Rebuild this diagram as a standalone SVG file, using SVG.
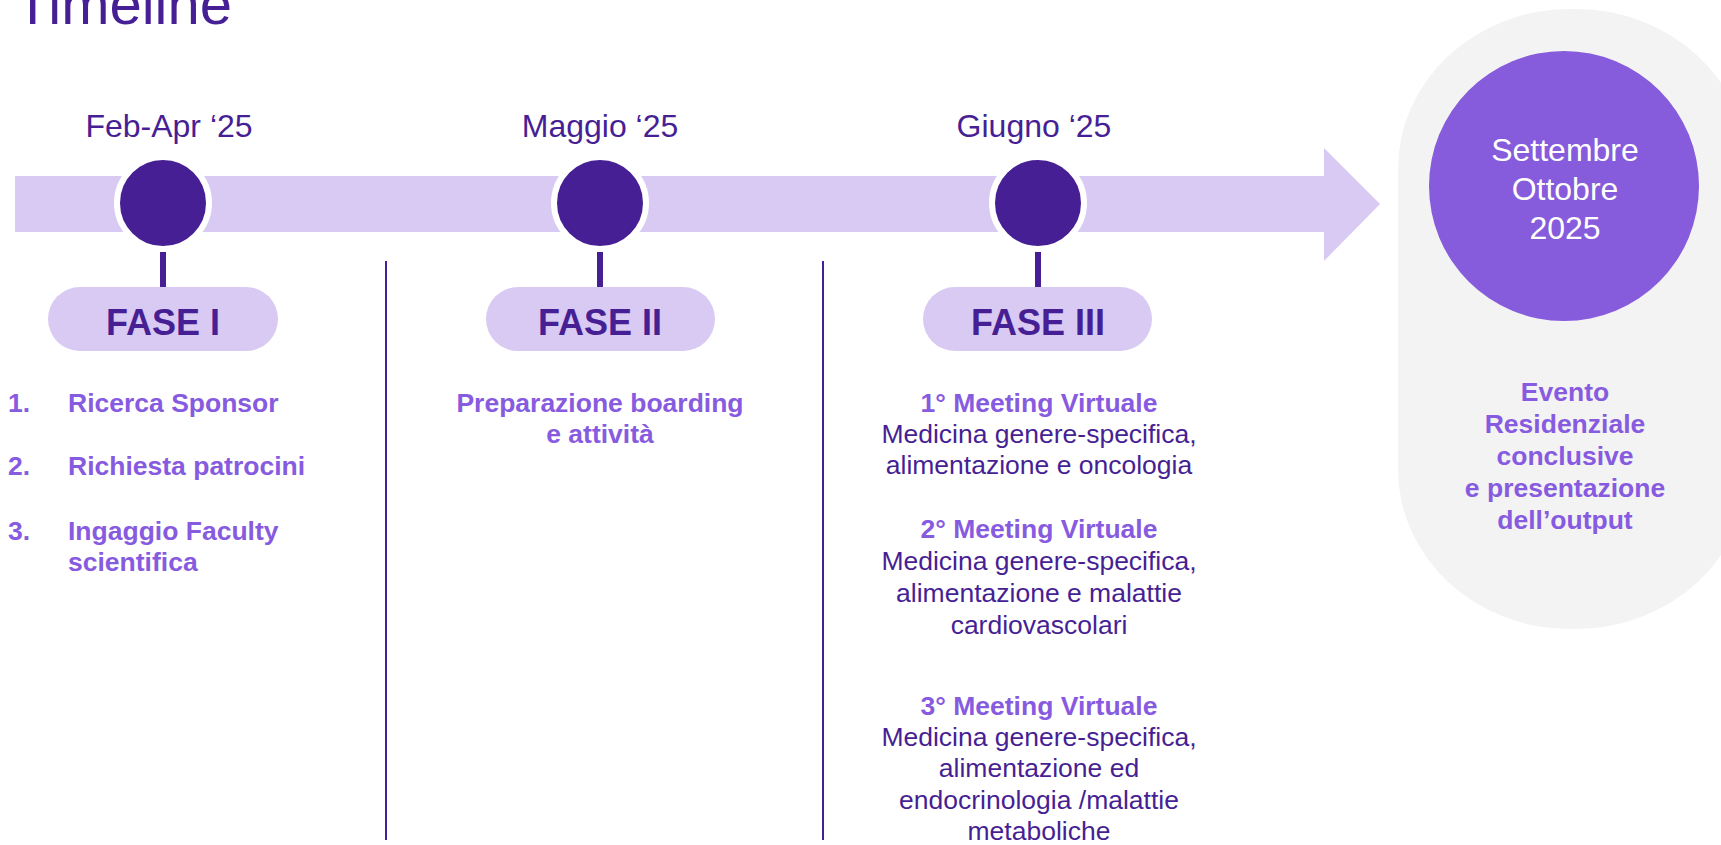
<svg xmlns="http://www.w3.org/2000/svg" width="1721" height="845" viewBox="0 0 1721 845">
<style>
text{font-family:"Liberation Sans",Arial,sans-serif}
.dark{fill:#471F94}
.mid{fill:#875BE0}
.date{font-size:32px;fill:#471F94;text-anchor:middle}
.fase{font-size:36px;font-weight:bold;fill:#471F94;text-anchor:middle}
.b{font-size:26.5px;font-weight:bold;fill:#875BE0}
.r{font-size:26.5px;fill:#471F94}
.c{text-anchor:middle}
.pill{fill:#D9CAF3}
.dot{fill:#471F94;stroke:#fff;stroke-width:6}
.stem{fill:#471F94}
.div{stroke:#471F94;stroke-width:2}
</style>
<rect width="1721" height="845" fill="#fff"/>
<text x="15" y="24" style="font-size:58px" class="dark">Timeline</text>
<g id="panel">
<rect x="1398" y="9" width="350" height="620" rx="172" ry="160" fill="#F3F3F3"/>
</g>
<g id="connectors">
<path d="M15 176 H1324 V148 L1380 204 L1324 261 V232 H15 Z" fill="#D9CAF3"/>
<line class="div" x1="386" y1="261" x2="386" y2="840"/>
<line class="div" x1="823" y1="261" x2="823" y2="840"/>
<rect class="stem" x="160" y="248" width="6" height="40"/>
<rect class="stem" x="597" y="248" width="6" height="40"/>
<rect class="stem" x="1035" y="248" width="6" height="40"/>
</g>
<g id="phase1">
<text class="date" x="169" y="137">Feb-Apr ‘25</text>
<circle class="dot" cx="163" cy="203" r="46"/>
<rect class="pill" x="48" y="287" width="230" height="64" rx="32"/>
<text class="fase" x="163" y="335">FASE I</text>
<text class="b" x="8" y="412">1.</text>
<text class="b" x="68" y="412">Ricerca Sponsor</text>
<text class="b" x="8" y="475">2.</text>
<text class="b" x="68" y="475">Richiesta patrocini</text>
<text class="b" x="8" y="540">3.</text>
<text class="b" x="68" y="540">Ingaggio Faculty</text>
<text class="b" x="68" y="571">scientifica</text>
</g>
<g id="phase2">
<text class="date" x="600" y="137">Maggio ‘25</text>
<circle class="dot" cx="600" cy="203" r="46"/>
<rect class="pill" x="486" y="287" width="229" height="64" rx="32"/>
<text class="fase" x="600" y="335">FASE II</text>
<text class="b c" x="600" y="412">Preparazione boarding</text>
<text class="b c" x="600" y="443">e attività</text>
</g>
<g id="phase3">
<text class="date" x="1034" y="137">Giugno ‘25</text>
<circle class="dot" cx="1038" cy="203" r="46"/>
<rect class="pill" x="923" y="287" width="229" height="64" rx="32"/>
<text class="fase" x="1038" y="335">FASE III</text>
<text class="b c" x="1039" y="412">1° Meeting Virtuale</text>
<text class="r c" x="1039" y="443">Medicina genere-specifica,</text>
<text class="r c" x="1039" y="474">alimentazione e oncologia</text>
<text class="b c" x="1039" y="538">2° Meeting Virtuale</text>
<text class="r c" x="1039" y="570">Medicina genere-specifica,</text>
<text class="r c" x="1039" y="602">alimentazione e malattie</text>
<text class="r c" x="1039" y="634">cardiovascolari</text>
<text class="b c" x="1039" y="715">3° Meeting Virtuale</text>
<text class="r c" x="1039" y="746">Medicina genere-specifica,</text>
<text class="r c" x="1039" y="777">alimentazione ed</text>
<text class="r c" x="1039" y="809">endocrinologia /malattie</text>
<text class="r c" x="1039" y="840">metaboliche</text>
</g>
<g id="final">
<circle cx="1564" cy="186" r="135" fill="#865BDC"/>
<text class="c" x="1565" y="161" style="font-size:32px;fill:#fff">Settembre</text>
<text class="c" x="1565" y="200" style="font-size:32px;fill:#fff">Ottobre</text>
<text class="c" x="1565" y="239" style="font-size:32px;fill:#fff">2025</text>
<text class="b c" x="1565" y="401">Evento</text>
<text class="b c" x="1565" y="433">Residenziale</text>
<text class="b c" x="1565" y="465">conclusive</text>
<text class="b c" x="1565" y="497">e presentazione</text>
<text class="b c" x="1565" y="529">dell’output</text>
</g>
</svg>
